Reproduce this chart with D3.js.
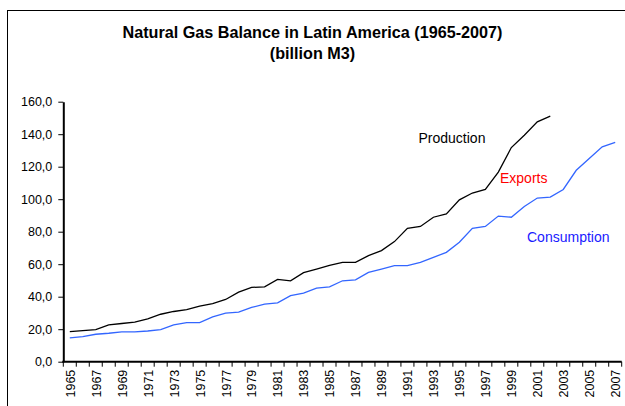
<!DOCTYPE html>
<html>
<head>
<meta charset="utf-8">
<script src="https://cdn.jsdelivr.net/npm/d3@7"></script>
<style>
  html, body { margin: 0; padding: 0; background: #fff; }
  svg { display: block; font-family: "Liberation Sans", Arial, sans-serif; }
</style>
</head>
<body>
<svg id="chart" width="625" height="406"></svg>
<script>
const years = d3.range(1965, 2008);
const production = [18.5, 19.1, 19.8, 22.6, 23.5, 24.3, 26.4, 29.2, 30.9, 32.1,
  34.2, 35.8, 38.3, 42.8, 45.7, 46.1, 50.6, 49.8, 54.8, 57.0,
  59.3, 61.1, 61.1, 65.3, 68.4, 73.9, 82.1, 83.2, 88.9, 91.0,
  99.6, 103.8, 106.0, 116.7, 131.8, 139.4, 147.6, 151.1];
const consumption = [14.6, 15.4, 16.9, 17.5, 18.3, 18.3, 18.9, 19.8, 22.6, 24.1,
  24.1, 27.6, 29.9, 30.5, 33.4, 35.4, 36.2, 40.6, 42.2, 45.3,
  46.1, 49.8, 50.4, 55.0, 57.0, 59.1, 59.1, 61.1, 64.2, 67.3,
  73.5, 82.1, 83.2, 89.6, 88.9, 95.5, 100.7, 101.3, 106.0, 117.8,
  125.0, 132.2, 134.9];
const yTicks = [0, 20, 40, 60, 80, 100, 120, 140, 160];
const xLabelYears = years.filter(y => (y - 1965) % 2 === 0);
const titleLines = ["Natural Gas Balance in Latin America (1965-2007)", "(billion M3)"];
const seriesLabels = ["Production", "Exports", "Consumption"];

(function draw() {
const svg = d3.select("#chart");
const pLeft = 63.3, pRight = 621.7, pTop = 101.7, pBottom = 361.7;

// frame
svg.append("rect").attr("x", 7.5).attr("y", 10.5).attr("width", 700).attr("height", 500)
  .attr("fill", "none").attr("stroke", "#000").attr("stroke-width", 1);

// title
svg.append("text").attr("x", 312.5).attr("y", 38).attr("text-anchor", "middle")
  .attr("font-size", 16.2).attr("font-weight", "bold").text(titleLines[0]);
svg.append("text").attr("x", 312.5).attr("y", 58.5).attr("text-anchor", "middle")
  .attr("font-size", 16.2).attr("font-weight", "bold").text(titleLines[1]);

const x = d3.scaleBand().domain(years).range([pLeft, pRight]).padding(0);
const y = d3.scaleLinear().domain([0, 160]).range([pBottom, pTop]);

// y axis
const fmt = d => d3.format(".1f")(d).replace(".", ",");
const yAxis = svg.append("g").attr("transform", `translate(${pLeft},0)`)
  .call(d3.axisLeft(y).tickValues(yTicks).tickFormat(fmt).tickSize(5).tickSizeOuter(0).tickPadding(6));
yAxis.select(".domain").attr("stroke-width", 2);
yAxis.selectAll(".tick line").attr("stroke-width", 1);
yAxis.selectAll("text").attr("font-size", 12.5).attr("fill", "#000").attr("font-family", "Liberation Sans, Arial, sans-serif");

// x axis: labels
const xAxis = svg.append("g").attr("transform", `translate(0,${pBottom})`)
  .call(d3.axisBottom(x).tickValues(xLabelYears).tickSize(0).tickSizeOuter(0));
xAxis.select(".domain").attr("stroke-width", 2).attr("d", `M${pLeft - 1},0H${pRight}`);
xAxis.selectAll("text")
  .attr("font-size", 12.5).attr("fill", "#000").attr("font-family", "Liberation Sans, Arial, sans-serif")
  .attr("transform", "rotate(-90)")
  .attr("text-anchor", "end")
  .attr("x", -8).attr("y", 0.5).attr("dy", "0.35em");
// x tick marks between categories
const edges = years.map(yr => x(yr)).concat([x(years[years.length - 1]) + x.bandwidth()]);
svg.append("g").selectAll("line").data(edges).join("line")
  .attr("x1", d => d).attr("x2", d => d)
  .attr("y1", pBottom).attr("y2", pBottom + 5)
  .attr("stroke", "#000").attr("stroke-width", 1);

const line = d3.line()
  .x((d, i) => x(years[i]) + x.bandwidth() / 2)
  .y(d => y(d));

svg.append("path").datum(production).attr("d", line)
  .attr("fill", "none").attr("stroke", "#000").attr("stroke-width", 1.3);
svg.append("path").datum(consumption).attr("d", line)
  .attr("fill", "none").attr("stroke", "#3366ff").attr("stroke-width", 1.3);

// series labels
svg.append("text").attr("x", 418.5).attr("y", 142.7).attr("font-size", 14)
  .attr("fill", "#000").text(seriesLabels[0]);
svg.append("text").attr("x", 500).attr("y", 183).attr("font-size", 14)
  .attr("fill", "#ff0000").text(seriesLabels[1]);
svg.append("text").attr("x", 527).attr("y", 241.5).attr("font-size", 14)
  .attr("fill", "#1a1aff").text(seriesLabels[2]);
})();
</script>
</body>
</html>
